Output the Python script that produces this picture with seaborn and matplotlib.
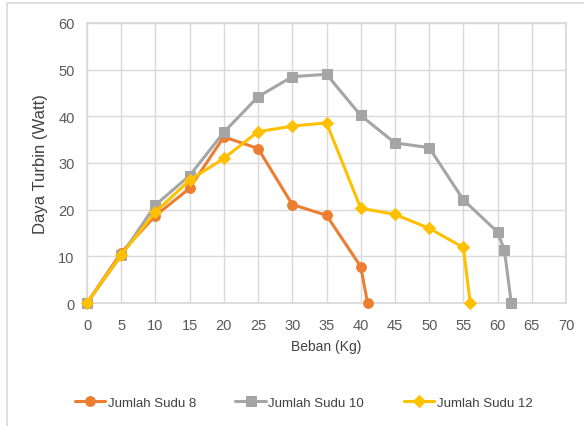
import numpy as np
import pandas as pd
import matplotlib.pyplot as plt
import seaborn as sns

sns.set_theme(style="whitegrid")
plt.rcParams["font.family"] = ["Liberation Sans", "DejaVu Sans"]

# data
beban_8 = [0, 5, 10, 15, 20, 25, 30, 35, 40, 41]
daya_8 = [0, 10.8, 18.7, 24.6, 35.6, 33.1, 21.1, 18.8, 7.8, 0]
beban_10 = [0, 5, 10, 15, 20, 25, 30, 35, 40, 45, 50, 55, 60, 61, 62]
daya_10 = [0, 10.2, 21.0, 27.3, 36.6, 44.2, 48.5, 49.0, 40.2, 34.3, 33.3, 22.1, 15.2, 11.3, 0]
beban_12 = [0, 5, 10, 15, 20, 25, 30, 35, 40, 45, 50, 55, 56]
daya_12 = [0, 10.3, 19.5, 26.3, 31.0, 36.7, 37.9, 38.6, 20.3, 19.0, 16.0, 11.9, 0]

series = [
    ("Jumlah Sudu 8", beban_8, daya_8, "#ED7D31", "o", 7),
    ("Jumlah Sudu 10", beban_10, daya_10, "#A5A5A5", "s", 7),
    ("Jumlah Sudu 12", beban_12, daya_12, "#FFC000", "D", 6),
]

fig = plt.figure(figsize=(5.84, 4.27), dpi=100)
ax = fig.add_axes([87 / 584, 1 - 304 / 427, (566 - 87) / 584, (304 - 24) / 427])

for name, x, y, c, m, ms in series:
    df = pd.DataFrame({"x": x, "y": y})
    sns.lineplot(data=df, x="x", y="y", ax=ax, color=c, marker=m, markersize=ms,
                 markeredgecolor=c, linewidth=2.2, label=name, sort=False, clip_on=False,
                 zorder=3)

ax.set_xlim(0, 70)
ax.set_ylim(0, 60)
ax.set_xticks(range(0, 71, 5))
ax.set_yticks(range(0, 61, 10))
ax.grid(True, color="#D9D9D9", linewidth=1)
for s in ax.spines.values():
    s.set_visible(True)
    s.set_color("#D9D9D9")
ax.set_facecolor("white")
ax.tick_params(colors="#595959", labelsize=10.5, length=0)
ax.tick_params(axis="x", pad=11)
ax.tick_params(axis="y", pad=9)
ax.set_xlabel("Beban (Kg)", fontsize=10, color="#404040", labelpad=5)
ax.set_ylabel("Daya Turbin (Watt)", fontsize=12, color="#404040", labelpad=7)

leg = ax.legend(loc="center", bbox_to_anchor=(0.452, -0.355), ncol=3, frameon=False,
                fontsize=9.5, handlelength=2.3, columnspacing=3.0, handletextpad=0.2)
for t in leg.get_texts():
    t.set_color("#404040")

# chart-area border: only left and top edges are visible in the crop
fig.patches.append(plt.Rectangle((7 / 584, -0.05), 1.1, 1.04, transform=fig.transFigure,
                                 fill=False, edgecolor="#D9D9D9", linewidth=1.2))

fig.savefig("out.png", dpi=100)
